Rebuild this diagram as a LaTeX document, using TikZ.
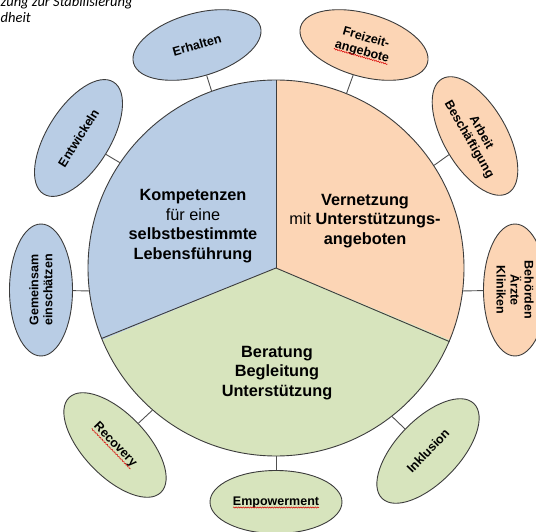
\documentclass[tikz,border=0pt]{standalone}
\usepackage{fontspec}
\setmainfont{Liberation Sans}
\newfontfamily\capfont{Carlito}
\usetikzlibrary{shapes.geometric,decorations.pathmorphing}
\definecolor{cblue}{HTML}{B9CDE5}
\definecolor{corange}{HTML}{FCD5B5}
\definecolor{cgreen}{HTML}{D7E4BD}
\definecolor{cline}{HTML}{3C3C3C}
\definecolor{cconn}{HTML}{505050}
\begin{document}
\begin{tikzpicture}[x=1pt,y=1pt,
  sat/.style={ellipse, draw=cline, line width=0.9pt, minimum width=132pt, minimum height=63pt, inner sep=0pt, align=center, font=\fontsize{12.5}{14}\selectfont\bfseries},
  conn/.style={draw=cconn, line width=0.9pt},
  big/.style={align=center, inner sep=0pt, font=\fontsize{16.3}{19.5}\selectfont},
  wavy/.style={draw=red!85!black, line width=0.5pt, decorate, decoration={snake, amplitude=0.6pt, segment length=2.4pt}},
  captext/.style={anchor=base west, inner sep=0pt, font=\capfont\itshape\fontsize{14.5}{17}\selectfont}]
\useasboundingbox (0,0) rectangle (536,531);
\coordinate (c) at (276,263);
% sectors
\fill[cblue] (c) -- ++(90:188) arc[start angle=90, end angle=202.5, radius=188] -- cycle;
\fill[corange] (c) -- ++(-22.5:188) arc[start angle=-22.5, end angle=90, radius=188] -- cycle;
\fill[cgreen] (c) -- ++(202.5:188) arc[start angle=202.5, end angle=337.5, radius=188] -- cycle;
\node[circle, draw=cline, line width=0.9pt, minimum size=376pt, inner sep=0pt] (main) at (c) {};
\draw[draw=cline, line width=0.9pt] (main.center) -- (main.90);
\draw[draw=cline, line width=0.9pt] (main.center) -- (main.202.5);
\draw[draw=cline, line width=0.9pt] (main.center) -- (main.337.5);
% center labels
\node[big] (komp) at (193,305) {\textbf{Kompetenzen}\\für eine\\\textbf{selbstbestimmte}\\\textbf{Lebensführung}};
\node[big] (vern) at (365,310) {\textbf{Vernetzung}\\mit \textbf{Unterstützungs-}\\\textbf{angeboten}};
\node[big, font=\fontsize{16.3}{19.5}\selectfont\bfseries] (ber) at (277,158) {Beratung\\Begleitung\\Unterstützung};
% satellites
\node[sat, fill=cblue, rotate=16] (erh) at (197,486) {Erhalten};
\node[sat, fill=cblue, rotate=58] (entw) at (78.5,393) {Entwickeln};
\node[sat, fill=cblue, rotate=90] (gem) at (41,241) {Gemeinsam\\einschätzen};
\node[sat, fill=cgreen, rotate=-46] (rec) at (115,86) {Recovery};
\node[sat, fill=cgreen] (emp) at (276,29) {Empowerment};
\node[sat, fill=cgreen, rotate=46] (ink) at (428,80) {Inklusion};
\node[sat, fill=corange, rotate=-90] (beh) at (515,241) {Behörden\\Ärzte\\Kliniken};
\node[sat, fill=corange, rotate=-60] (arb) at (475,395) {Arbeit\\Beschäftigung};
\node[sat, fill=corange, rotate=-16] (frei) at (364,486) {Freizeit-\\angebote};
% connectors
\draw[conn] (erh) -- (main.110.4);
\draw[conn] (entw) -- (main.146.2);
\draw[conn] (gem) -- (main.187);
\draw[conn] (rec) -- (main.229);
\draw[conn] (emp) -- (main.270);
\draw[conn] (ink) -- (main.308);
\draw[conn] (beh) -- (main.353);
\draw[conn] (arb) -- (main.33.4);
\draw[conn] (frei) -- (main.68.7);
% spell-check marks
\begin{scope}[shift={(frei.center)}, rotate=-16]
  \draw[wavy] (-28,-12) -- (28,-12);
\end{scope}
\begin{scope}[shift={(rec.center)}, rotate=-46]
  \draw[wavy] (-28,-5.5) -- (28,-5.5);
\end{scope}
\begin{scope}[shift={(emp.center)}]
  \draw[wavy] (-43,-5.5) -- (43,-5.5);
\end{scope}
% caption fragment (cut off in the reference)
\node[captext] (cap1) at (0.5,524.5) {zung zur Stabilisierung};
\node[captext] (cap2) at (0.5,508) {dheit};
\end{tikzpicture}
\end{document}
